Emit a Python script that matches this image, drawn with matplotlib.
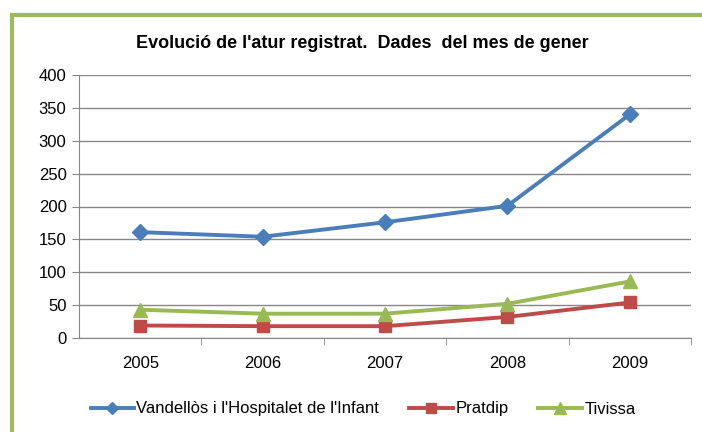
"""
Evolució de l'atur registrat - gener 2005-2009
"""

import matplotlib.pyplot as plt
from matplotlib.patches import Rectangle

plt.rcParams['font.family'] = ['Liberation Sans', 'DejaVu Sans']

years = ['2005', '2006', '2007', '2008', '2009']
vandellos = [161, 154, 176, 201, 340]
pratdip = [19, 18, 18, 32, 54]
tivissa = [43, 37, 37, 52, 86]

series = [
    ("Vandellòs i l'Hospitalet de l'Infant", vandellos, '#4A7EBB', 'D', 8),
    ('Pratdip', pratdip, '#BE4B48', 's', 9),
    ('Tivissa', tivissa, '#98B954', '^', 10),
]

fig = plt.figure(figsize=(7.02, 4.32), dpi=100)
ax = fig.add_axes([79 / 702, 94 / 432, 612 / 702, 263 / 432])

x = range(len(years))
for name, vals, col, mk, ms in series:
    ax.plot(x, vals, color=col, lw=2.8, marker=mk, markersize=ms, label=name)

ax.set_xlim(-0.5, len(years) - 0.5)
ax.set_ylim(0, 400)
ax.set_yticks(range(0, 401, 50))
ax.set_xticks(list(x))
ax.set_xticklabels(years)
ax.set_xticks([i + 0.5 for i in range(len(years))], minor=True)
ax.tick_params(axis='x', which='major', length=0, pad=13, labelsize=12)
ax.tick_params(axis='x', which='minor', length=5, color='#878787')
ax.tick_params(axis='y', length=5, color='#878787', labelsize=12, pad=4)

ax.grid(axis='y', color='#878787', lw=1)
ax.set_axisbelow(True)
for side in ['top', 'right']:
    ax.spines[side].set_visible(False)
for side in ['left', 'bottom']:
    ax.spines[side].set_color('#878787')

fig.text(362 / 702, 1 - 43 / 432, "Evolució de l'atur registrat.  Dades  del mes de gener",
         ha='center', va='center', fontsize=13, fontweight='bold')

fig.legend(loc='center', bbox_to_anchor=(363 / 702, 1 - 409 / 432), ncol=3, frameon=False,
           fontsize=12, handlelength=2.6, handletextpad=0.15, columnspacing=1.8,
           markerscale=0.8)

# green frame around the chart
fig.patches.append(Rectangle((11.5 / 702, -0.2), 2, 1.2 - 15.5 / 432,
                             transform=fig.transFigure, fill=False,
                             edgecolor='#9BBB59', lw=3))

fig.savefig('out.png', dpi=100)
